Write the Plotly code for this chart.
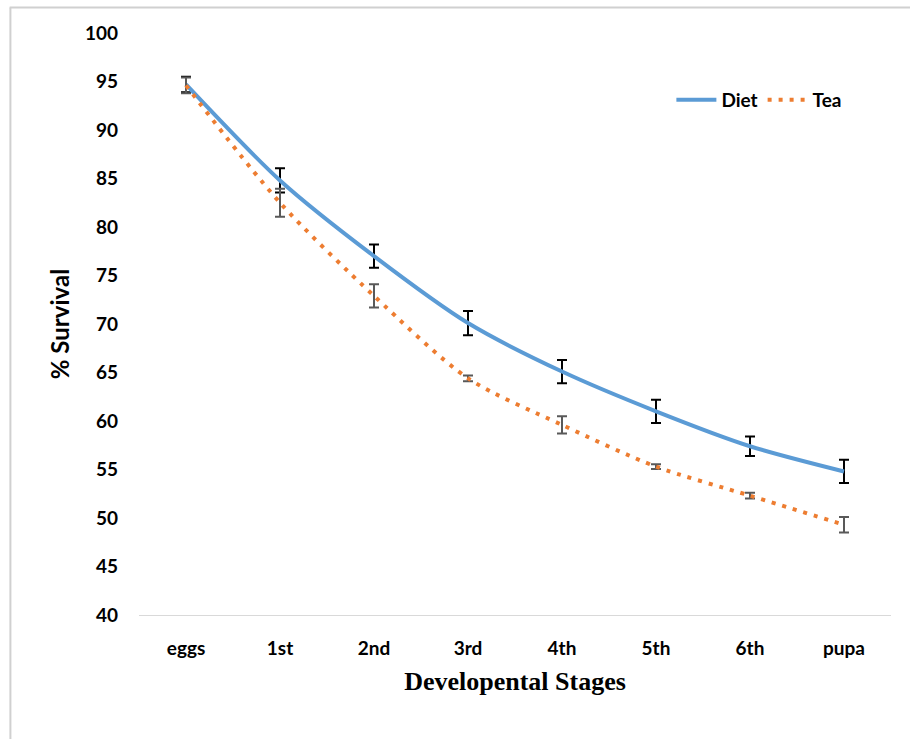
import plotly.graph_objects as go

# Larval development survival: artificial diet vs. tea leaves
stages = ["eggs", "1st", "2nd", "3rd", "4th", "5th", "6th", "pupa"]
diet = [94.7, 84.8, 77.0, 70.1, 65.1, 61.0, 57.4, 54.8]
diet_err = [0.8, 1.25, 1.2, 1.25, 1.2, 1.2, 1.0, 1.2]
tea = [94.6, 82.5, 72.9, 64.4, 59.6, 55.3, 52.3, 49.3]
tea_err = [0.8, 1.45, 1.2, 0.3, 0.9, 0.25, 0.3, 0.8]
y_ticks = list(range(40, 101, 5))

tick_font = dict(family="Lato, 'Open Sans', sans-serif", size=19, color="#000000")

fig = go.Figure()
fig.add_trace(go.Scatter(
    x=stages, y=diet, name="Diet", mode="lines",
    line=dict(color="#5b9bd5", width=4, shape="spline", smoothing=0.8),
    error_y=dict(type="data", array=diet_err, visible=True,
                 color="#000000", thickness=2, width=5),
))
fig.add_trace(go.Scatter(
    x=stages, y=tea, name="Tea", mode="lines",
    line=dict(color="#ed7d31", width=4, shape="spline", smoothing=0.8,
              dash="4px,7px"),
    error_y=dict(type="data", array=tea_err, visible=True,
                 color="#595959", thickness=2, width=5),
))

# thin frame along the top and left edges of the figure
fig.add_shape(type="line", xref="paper", yref="paper",
              x0=-0.172, x1=1.03, y0=1.044, y1=1.044,
              line=dict(color="#d0d0d0", width=2))
fig.add_shape(type="line", xref="paper", yref="paper",
              x0=-0.171, x1=-0.171, y0=1.044, y1=-0.22,
              line=dict(color="#d0d0d0", width=2))

fig.update_layout(
    width=910, height=739,
    margin=dict(l=139, r=19, t=33, b=124),
    paper_bgcolor="white", plot_bgcolor="white",
    showlegend=True,
    legend=dict(orientation="h", x=0.942, y=0.885, xanchor="right",
                yanchor="middle", bgcolor="rgba(0,0,0,0)",
                font=dict(family="Lato, 'Open Sans', sans-serif", size=19,
                          color="#000000", weight="bold"),
                itemwidth=40, tracegroupgap=0),
    xaxis=dict(
        type="category", range=[-0.5, 7.5],
        showgrid=False, zeroline=False,
        showline=True, linecolor="#d9d9d9", linewidth=1,
        ticks="", ticklabelstandoff=16,
        tickfont=dict(tick_font, weight="bold"),
        title=dict(text="Developental Stages", standoff=14,
                   font=dict(family="'Liberation Serif', 'Times New Roman', serif",
                             size=26, color="#000000", weight="bold")),
    ),
    yaxis=dict(
        range=[40, 100], tickvals=y_ticks,
        showgrid=False, zeroline=False, showline=False,
        ticks="", ticklabelstandoff=20,
        tickfont=dict(tick_font, weight="bold"),
        title=dict(text="% Survival", standoff=8,
                   font=dict(family="Lato, 'Open Sans', sans-serif", size=24,
                             color="#000000", weight="bold")),
    ),
)

fig.write_html("out.html")
